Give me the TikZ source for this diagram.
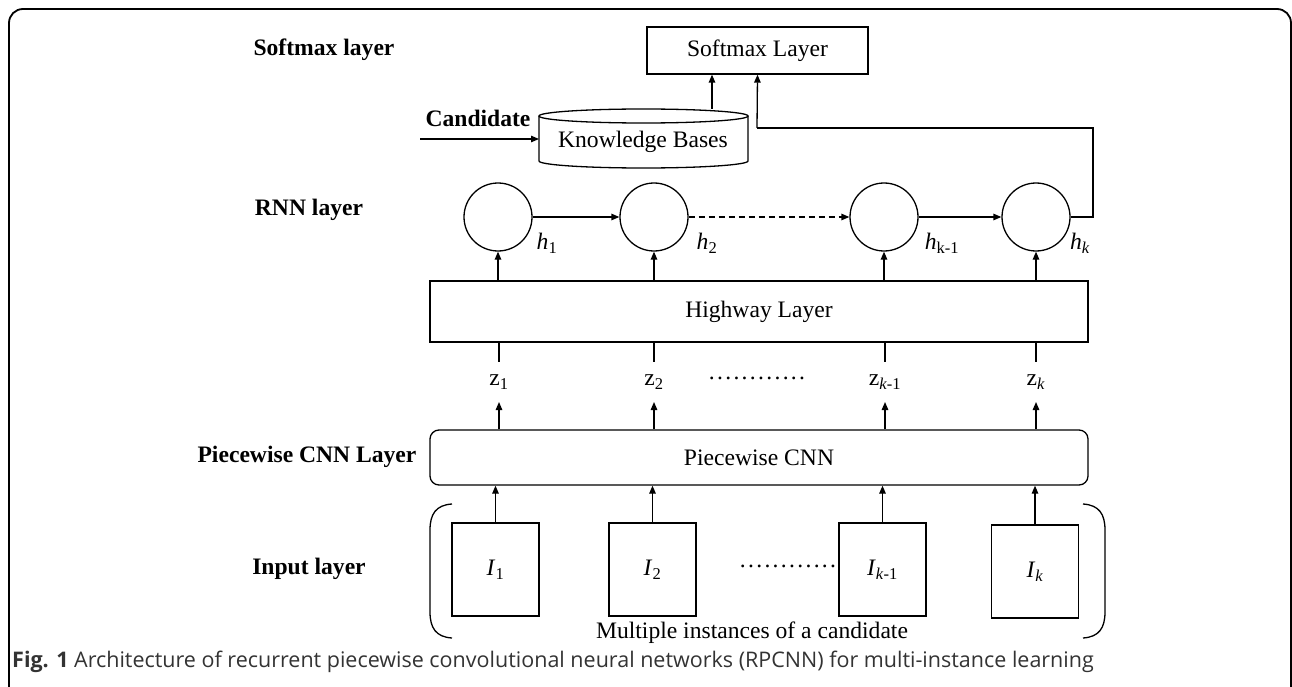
\documentclass[tikz,border=0pt]{standalone}
\usepackage{fontspec}
\setmainfont{Liberation Serif}
\newfontfamily\capfont{Open Sans}
\usetikzlibrary{arrows.meta}
\newcommand\mydots{.\kern2.3pt.\kern2.3pt.\kern2.3pt.\kern2.3pt.\kern2.3pt.\kern2.3pt.\kern2.3pt.\kern2.3pt.\kern2.3pt.\kern2.3pt.\kern2.3pt.}
\begin{document}
\begin{tikzpicture}[x=1pt,y=-1pt,
  lbl/.style={font=\bfseries\fontsize{23.6}{28}\selectfont, inner sep=0pt},
  txt/.style={font=\fontsize{23.6}{28}\selectfont, inner sep=0pt},
  boxx/.style={draw, line width=1.3pt, inner sep=0pt},
  ln/.style={line width=1.3pt},
  arr/.style={line width=1.3pt, -{Triangle[length=8pt,width=6.5pt]}},
  neuron/.style={draw, circle, line width=1.3pt, minimum size=68pt, inner sep=0pt},
  inbox/.style={draw, line width=1.3pt, minimum width=87pt, minimum height=93pt, inner sep=0pt, font=\fontsize{23.6}{28}\selectfont}
]
\useasboundingbox (0,0) rectangle (1292,687);
% outer frame
\draw[line width=1.8pt, rounded corners=14pt] (9,690) -- (9,9) -- (1291,9) -- (1291,690);

% left labels
\node[lbl] (lsoft) at (324,50) {Softmax layer};
\node[lbl] (lrnn) at (309,210) {RNN layer};
\node[lbl] (lpcnn) at (307,457) {Piecewise CNN Layer};
\node[lbl] (linput) at (309,569) {Input layer};

% softmax
\node[boxx, txt, minimum width=221pt, minimum height=47pt] (soft) at (757.5,50.5) {Softmax Layer};

% knowledge bases cylinder
\draw[ln] (643.5,116) ellipse [x radius=104.5, y radius=7];
\draw[ln] (539,116) -- (539,161) arc[start angle=180, end angle=0, x radius=104.5, y radius=7] -- (748,116);
\node[txt] (kb) at (643,142) {Knowledge Bases};
\coordinate (kbtop) at (712,109);
\coordinate (kbleft) at (539,139);
\node[lbl] (cand) at (478,118) {Candidate};
\coordinate (candstart) at (420,139);
\draw[arr] (candstart) -- (kbleft);
\draw[arr] (kbtop) -- (soft.south -| kbtop);

% RNN
\node[neuron] (c1) at (498,217) {};
\node[neuron] (c2) at (654,217) {};
\node[neuron] (c3) at (884,217) {};
\node[neuron] (c4) at (1036,217) {};
\draw[arr] (c1) -- (c2);
\draw[arr, dash pattern=on 6pt off 4pt] (c2) -- (c3);
\draw[arr] (c3) -- (c4);
\node[txt] (h1) at (547,243) {\textit{h}\textsubscript{1}};
\node[txt] (h2) at (707,243) {\textit{h}\textsubscript{2}};
\node[txt] (h3) at (942,243) {\textit{h}\textsubscript{k-1}};
\node[txt] (h4) at (1080,243) {\textit{h}\textsubscript{\textit{k}}};
\coordinate (fb1) at (1093,217);
\coordinate (fb2) at (1093,128);
\coordinate (fb3) at (757,128);
\draw[ln] (c4.east) -- (fb1) -- (fb2) -- (fb3);
\draw[arr] (fb3) -- (soft.south);

% highway
\node[boxx, txt, minimum width=658pt, minimum height=61pt] (hw) at (759,311.5) {Highway Layer};
\foreach \c in {c1,c2,c3,c4} \draw[arr] (hw.north -| \c) -- (\c.south);

% z labels
\node[txt] (z1) at (499,382) {z\textsubscript{1}};
\node[txt] (z2) at (654,382) {z\textsubscript{2}};
\node[txt] (z3) at (885,382) {z\textsubscript{\textit{k}-1}};
\node[txt] (z4) at (1036,382) {z\textsubscript{\textit{k}}};
\node[txt] (zdots) at (757,378) {\mydots};

% piecewise cnn
\node[boxx, txt, rounded corners=9pt, minimum width=658pt, minimum height=55pt] (pcnn) at (759,457.5) {Piecewise CNN};

\foreach \z/\x in {z1/499,z2/654,z3/885,z4/1036} {
  \coordinate (t\z) at (\x,362);
  \coordinate (b\z) at (\x,402);
  \draw[ln] (hw.south -| t\z) -- (t\z);
  \draw[arr] (b\z |- pcnn.north) -- (b\z);
}

% input boxes
\node[inbox] (i1) at (495.5,569.5) {\textit{I}\textsubscript{1}};
\node[inbox] (i2) at (652.5,569.5) {\textit{I}\textsubscript{2}};
\node[inbox] (i3) at (882.5,569.5) {\textit{I}\textsubscript{\textit{k}-1}};
\node[inbox] (i4) at (1035,571.5) {\textit{I}\textsubscript{\textit{k}}};
\node[txt] (idots) at (788,566) {\mydots};
\foreach \i in {i1,i2,i3,i4} \draw[arr] (\i.north) -- (\i |- pcnn.south);

% brackets
\coordinate (lbt) at (452,504);
\coordinate (lbb) at (452,638);
\coordinate (rbt) at (1083,504);
\coordinate (rbb) at (1083,638);
\draw[ln] (lbt) .. controls (436,505) and (430,514) .. (430,530) -- (430,612) .. controls (430,628) and (436,637) .. (lbb);
\draw[ln] (rbt) .. controls (1099,505) and (1105,514) .. (1105,530) -- (1105,612) .. controls (1105,628) and (1099,637) .. (rbb);
\node[txt] (multi) at (752,633) {Multiple instances of a candidate};

% caption
\node[anchor=west, inner sep=0pt, font=\capfont\fontsize{21.5}{26}\selectfont, text=black!80] (cap) at (12,662) {\textbf{Fig. 1} Architecture of recurrent piecewise convolutional neural networks (RPCNN) for multi-instance learning};
\end{tikzpicture}
\end{document}
